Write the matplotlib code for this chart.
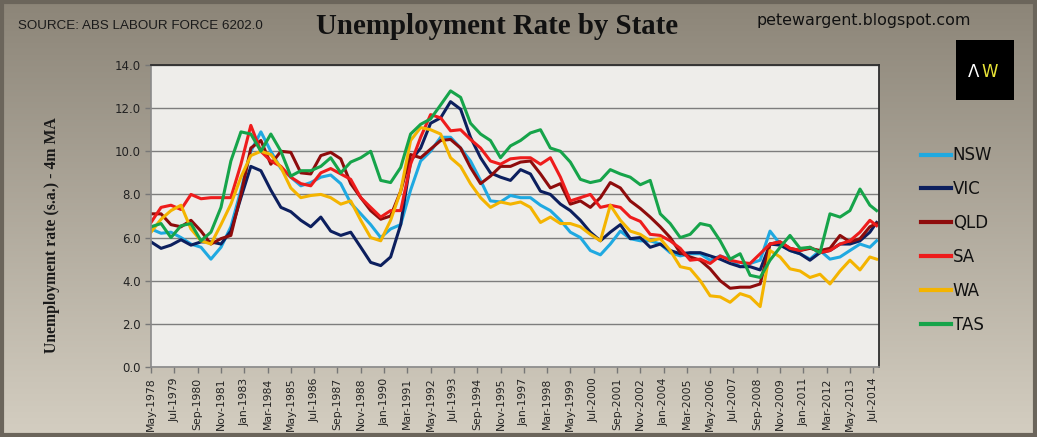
import numpy as np
import pandas as pd
import matplotlib
matplotlib.use("Agg")
import matplotlib.pyplot as plt
from matplotlib.patches import Rectangle
from matplotlib import font_manager

# ---------------- data (half-yearly readings, May-1978 .. May-2014, plus Sep-2014) ----------------
DATES = list(pd.date_range("1978-05-01", "2014-05-01", freq="6MS")) + [pd.Timestamp("2014-09-01")]

NSW = [6.4, 6.2, 6.25, 6.0, 5.7, 5.55, 5.0, 5.55, 6.5, 8.2,
       10.0, 10.9, 10.0, 9.2, 8.8, 8.4, 8.55, 8.8, 8.9, 8.5,
       7.6, 7.1, 6.6, 6.0, 6.4, 6.6, 8.2, 9.55, 10.0, 10.65,
       10.65, 10.15, 9.55, 8.65, 7.7, 7.65, 7.95, 7.85, 7.85, 7.5,
       7.25, 6.8, 6.25, 6.0, 5.4, 5.2, 5.7, 6.3, 5.95, 5.85,
       5.85, 5.7, 5.3, 5.15, 5.25, 5.25, 4.95, 5.15, 5.0, 4.65,
       4.8, 4.95, 6.3, 5.7, 5.4, 5.25, 5.0, 5.4, 5.0, 5.1,
       5.4, 5.7, 5.55, 5.85]
VIC = [5.8, 5.5, 5.65, 5.9, 5.65, 5.8, 5.8, 5.7, 6.3, 7.85,
       9.3, 9.1, 8.2, 7.4, 7.2, 6.8, 6.5, 6.95, 6.3, 6.1,
       6.25, 5.55, 4.85, 4.7, 5.1, 6.6, 9.55, 10.15, 11.3, 11.55,
       12.3, 11.95, 10.65, 9.7, 9.0, 8.8, 8.65, 9.15, 8.95, 8.15,
       8.0, 7.55, 7.25, 6.8, 6.25, 5.85, 6.25, 6.6, 5.95, 6.0,
       5.55, 5.7, 5.4, 5.25, 5.3, 5.3, 5.15, 5.0, 4.8, 4.65,
       4.65, 4.5, 5.7, 5.65, 5.4, 5.25, 4.95, 5.3, 5.4, 5.7,
       5.7, 5.85, 6.25, 6.7]
QLD = [7.1, 7.1, 6.6, 6.5, 6.8, 6.3, 5.7, 5.95, 6.1, 8.0,
       10.15, 10.5, 9.4, 10.0, 9.95, 9.0, 8.95, 9.8, 9.95, 9.65,
       8.5, 7.85, 7.25, 6.85, 7.0, 8.15, 9.85, 9.7, 10.1, 10.5,
       10.55, 10.15, 9.25, 8.5, 8.85, 9.3, 9.3, 9.5, 9.55, 8.95,
       8.3, 8.5, 7.55, 7.7, 7.4, 7.85, 8.55, 8.3, 7.7, 7.35,
       6.95, 6.5, 6.0, 5.3, 5.1, 4.95, 4.55, 4.0, 3.65, 3.7,
       3.7, 3.85, 5.7, 5.8, 5.5, 5.4, 5.5, 5.4, 5.5, 6.1,
       5.8, 5.95, 6.5, 6.65]
SA = [6.7, 7.4, 7.5, 7.3, 8.0, 7.8, 7.85, 7.85, 7.85, 9.4,
      11.2, 10.0, 9.55, 9.3, 8.8, 8.5, 8.4, 9.0, 9.2, 8.95,
      8.7, 7.85, 7.4, 6.95, 7.25, 7.25, 9.4, 10.65, 11.7, 11.55,
      10.95, 11.0, 10.55, 10.15, 9.55, 9.4, 9.65, 9.7, 9.7, 9.4,
      9.7, 8.8, 7.7, 7.85, 8.0, 7.4, 7.5, 7.4, 6.95, 6.75,
      6.15, 6.1, 5.85, 5.5, 4.95, 5.0, 4.8, 5.15, 4.95, 4.85,
      4.8, 5.25, 5.7, 5.8, 5.5, 5.4, 5.55, 5.3, 5.4, 5.7,
      5.85, 6.25, 6.8, 6.55]
WA = [6.25, 6.85, 7.25, 7.5, 6.4, 5.85, 5.7, 6.6, 7.55, 8.8,
      9.8, 10.0, 9.85, 9.25, 8.3, 7.85, 7.95, 8.0, 7.85, 7.55,
      7.7, 6.8, 6.0, 5.85, 6.8, 8.15, 10.5, 11.1, 11.0, 10.8,
      9.7, 9.3, 8.5, 7.85, 7.4, 7.65, 7.55, 7.65, 7.4, 6.7,
      6.95, 6.65, 6.65, 6.5, 6.15, 5.85, 7.5, 6.8, 6.3, 6.15,
      5.85, 5.95, 5.4, 4.65, 4.55, 4.0, 3.3, 3.25, 3.0, 3.4,
      3.25, 2.8, 5.4, 5.1, 4.55, 4.45, 4.15, 4.3, 3.85, 4.45,
      4.95, 4.5, 5.1, 5.0]
TAS = [6.5, 6.65, 6.0, 6.55, 6.65, 5.85, 6.25, 7.4, 9.55, 10.9,
       10.8, 10.0, 10.8, 10.0, 8.85, 9.1, 9.1, 9.3, 9.7, 9.0,
       9.5, 9.7, 10.0, 8.65, 8.55, 9.25, 10.8, 11.25, 11.5, 12.15,
       12.8, 12.5, 11.3, 10.8, 10.5, 9.7, 10.25, 10.5, 10.85, 11.0,
       10.15, 10.0, 9.5, 8.7, 8.55, 8.65, 9.15, 8.95, 8.8, 8.45,
       8.65, 7.1, 6.65, 6.0, 6.15, 6.65, 6.55, 5.85, 5.0, 5.25,
       4.25, 4.15, 4.95, 5.55, 6.1, 5.5, 5.55, 5.3, 7.1, 6.95,
       7.25, 8.25, 7.5, 7.25]

SERIES_NAMES = ["NSW", "VIC", "QLD", "SA", "WA", "TAS"]
SERIES_VALUES = [NSW, VIC, QLD, SA, WA, TAS]
COLORS = ["#1fa9e1", "#0c1f5e", "#8e0c0c", "#ee1c1c", "#f4b400", "#16a44a"]

TICK_LABELS = ["May-1978", "Jul-1979", "Sep-1980", "Nov-1981", "Jan-1983", "Mar-1984",
               "May-1985", "Jul-1986", "Sep-1987", "Nov-1988", "Jan-1990", "Mar-1991",
               "May-1992", "Jul-1993", "Sep-1994", "Nov-1995", "Jan-1997", "Mar-1998",
               "May-1999", "Jul-2000", "Sep-2001", "Nov-2002", "Jan-2004", "Mar-2005",
               "May-2006", "Jul-2007", "Sep-2008", "Nov-2009", "Jan-2011", "Mar-2012",
               "May-2013", "Jul-2014"]
Y_TICKS = [0, 2, 4, 6, 8, 10, 12, 14]

# ---------------- figure ----------------
W, H = 1037, 437
fig = plt.figure(figsize=(W / 100, H / 100), dpi=100)

# background gradient
bg = fig.add_axes([0, 0, 1, 1], zorder=-10)
bg.set_axis_off()
top = np.array([0x8c, 0x85, 0x78]) / 255
bot = np.array([0xd4, 0xce, 0xc1]) / 255
t = np.linspace(0, 1, 256)[:, None]
grad = (top[None, :] * (1 - t) + bot[None, :] * t)[:, None, :]
grad = np.repeat(grad, 2, axis=1)
bg.imshow(grad, aspect="auto", extent=[0, 1, 0, 1])
bg.set_xlim(0, 1)
bg.set_ylim(0, 1)
bg.add_patch(Rectangle((0.002, 0.004), 0.996, 0.992, transform=bg.transAxes,
                       fill=False, edgecolor="#6b655b", linewidth=3))

ax = fig.add_axes([151 / W, 1 - 367 / H, (879 - 151) / W, (367 - 65) / H])
ax.set_facecolor("#eeedea")

dates = pd.to_datetime(DATES)
for name, vals, col in zip(SERIES_NAMES, SERIES_VALUES, COLORS):
    ax.plot(dates, vals, color=col, linewidth=2.2, label=name, solid_joinstyle="round")

tick_dates = pd.to_datetime(TICK_LABELS, format="%b-%Y")
ax.set_xticks(tick_dates)
ax.set_xticklabels(TICK_LABELS, rotation=90, fontsize=7.8, color="#222222")
ax.set_xlim(pd.Timestamp("1978-05-01"), pd.Timestamp("2014-10-15"))

ax.set_ylim(0, 14)
ax.set_yticks(Y_TICKS)
ax.set_yticklabels([f"{v:.1f}" for v in Y_TICKS], fontsize=8.5, color="#222222")
ax.grid(axis="y", color="#7d7d7d", linewidth=1.0)
ax.set_axisbelow(True)
ax.tick_params(axis="both", direction="out", length=4, color="#777777", width=1)

for side in ["top", "right"]:
    ax.spines[side].set_color("#2e2e2e")
    ax.spines[side].set_linewidth(1.3)
for side in ["left", "bottom"]:
    ax.spines[side].set_color("#8a8a8a")
    ax.spines[side].set_linewidth(1.2)

# y-axis title
fig.text(52 / W, 1 - 235 / H, "Unemployment rate (s.a.) - 4m MA", rotation=90,
         ha="center", va="center", fontsize=11.3, fontweight="bold",
         family=["Liberation Serif", "DejaVu Serif"], color="#1a1a1a")

# titles
fig.text(497 / W, 1 - 27 / H, "Unemployment Rate by State", ha="center", va="center",
         fontsize=20.8, fontweight="bold", family=["Liberation Serif", "DejaVu Serif"], color="#111111")

available = {f.name for f in font_manager.fontManager.ttflist}
if "Liberation Sans Narrow" in available:
    src_family, src_size = ["Liberation Sans Narrow"], 11.3
else:
    src_family, src_size = ["Liberation Sans", "DejaVu Sans"], 9.6
fig.text(18 / W, 1 - 26 / H, "SOURCE: ABS LABOUR FORCE 6202.0", ha="left", va="center",
         fontsize=src_size, family=src_family, color="#1a1a1a")
fig.text(757 / W, 1 - 21 / H, "petewargent.blogspot.com", ha="left", va="center",
         fontsize=11.4, family=["DejaVu Sans"], color="#111111")

# logo
fig.patches.append(Rectangle((956 / W, 1 - 100 / H), 58 / W, 60 / H, transform=fig.transFigure,
                             facecolor="black", edgecolor="none", zorder=5))
fig.text(979 / W, 1 - 72 / H, "\u039b", ha="right", va="center", fontsize=12,
         color="white", family=["DejaVu Sans"], zorder=6)
fig.text(981 / W, 1 - 72 / H, "W", ha="left", va="center", fontsize=12,
         color="#e9e437", family=["DejaVu Sans"], zorder=6)

# legend
leg = fig.legend(loc="center left", bbox_to_anchor=(921 / W, 1 - 240 / H), frameon=False,
                 fontsize=12, handlelength=1.8, handletextpad=0.1, labelspacing=0.95,
                 borderpad=0, borderaxespad=0)
for line in leg.get_lines():
    line.set_linewidth(3)
for txt in leg.get_texts():
    txt.set_color("#111111")

fig.savefig("out.png", dpi=100)
